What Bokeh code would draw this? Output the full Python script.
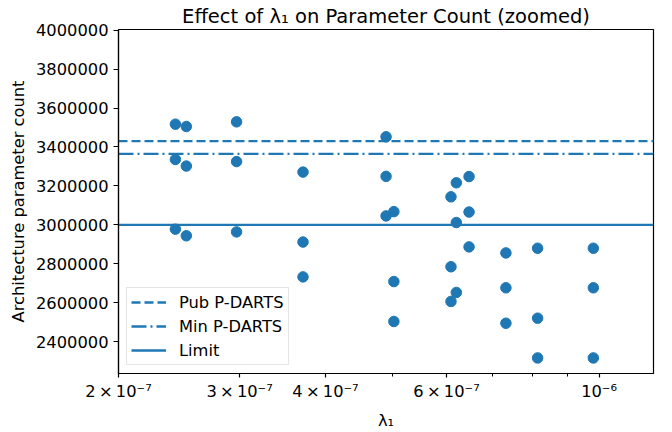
from bokeh.plotting import figure
from bokeh.models import (Range1d, FixedTicker, CustomJSTickFormatter,
                          Legend, LegendItem, BasicTickFormatter)
from bokeh.embed import file_html
from bokeh.resources import INLINE

# ---- data ----
lambda1 = [2.42e-7, 2.42e-7, 2.42e-7,
           2.51e-7, 2.51e-7, 2.51e-7,
           2.97e-7, 2.97e-7, 2.97e-7,
           3.71e-7, 3.71e-7, 3.71e-7,
           4.90e-7, 4.90e-7, 4.90e-7,
           5.03e-7, 5.03e-7, 5.03e-7,
           6.09e-7, 6.09e-7, 6.09e-7,
           6.20e-7, 6.20e-7, 6.20e-7,
           6.47e-7, 6.47e-7, 6.47e-7,
           7.32e-7, 7.32e-7, 7.32e-7,
           8.14e-7, 8.14e-7, 8.14e-7,
           9.81e-7, 9.81e-7, 9.81e-7]
param_count = [3517000, 3336000, 2978000,
               3505000, 3302000, 2944000,
               3529000, 3325000, 2964000,
               3271000, 2912000, 2733000,
               3452000, 3249000, 3046000,
               3068000, 2709000, 2504000,
               3144000, 2785000, 2607000,
               3216000, 3012000, 2653000,
               3248000, 3066000, 2887000,
               2856000, 2677000, 2495000,
               2880000, 2521000, 2317000,
               2880000, 2677000, 2317000]

ref_names = ["Pub P-DARTS", "Min P-DARTS", "Limit"]
ref_values = [3430000, 3365000, 3000000]
ref_dashes = ["9 4", "15 4 2 4", "solid"]

x_tick_values = [2e-7, 3e-7, 4e-7, 6e-7, 1e-6]
x_tick_labels = ["2\u2009×\u200910⁻⁷", "3\u2009×\u200910⁻⁷", "4\u2009×\u200910⁻⁷",
                 "6\u2009×\u200910⁻⁷", "10⁻⁶"]
x_minor_ticks = [5e-7, 7e-7, 8e-7, 9e-7]
y_tick_values = [2400000, 2600000, 2800000, 3000000, 3200000,
                 3400000, 3600000, 3800000, 4000000]

x_limits = [2e-7, 1.2e-6]
y_limits = [2237000, 4003000]

BLUE = "#1f77b4"
FONT = "DejaVu Sans"
FS = "16.3px"

p = figure(width=672, height=432, x_axis_type="log",
           x_range=Range1d(*x_limits), y_range=Range1d(*y_limits),
           output_backend="svg", toolbar_location=None,
           title="Effect of λ₁ on Parameter Count (zoomed)",
           min_border_left=118, min_border_right=19,
           min_border_top=29, min_border_bottom=55)

p.background_fill_color = "white"
p.border_fill_color = "white"
p.outline_line_color = "black"
p.outline_line_width = 1.2
p.grid.visible = False

p.title.text_font = FONT
p.title.text_font_size = "19.5px"
p.title.text_font_style = "normal"
p.title.text_color = "black"
p.title.align = "center"
p.title.standoff = 4
p.title.offset = 0

# x axis
p.xaxis.ticker = FixedTicker(ticks=x_tick_values, minor_ticks=x_minor_ticks)
p.xaxis.formatter = CustomJSTickFormatter(
    args=dict(vals=x_tick_values, labs=x_tick_labels),
    code="""
for (let i = 0; i < vals.length; i++) {
  if (Math.abs(tick - vals[i]) < vals[i] * 1e-6) { return labs[i]; }
}
return "";
""")
p.xaxis.axis_label = "λ₁"

# y axis
p.yaxis.ticker = FixedTicker(ticks=y_tick_values, minor_ticks=[])
p.yaxis.formatter = BasicTickFormatter(use_scientific=False)
p.yaxis.axis_label = "Architecture parameter count"

for ax in (p.xaxis, p.yaxis):
    ax.axis_line_color = "black"
    ax.axis_line_width = 1.2
    ax.major_tick_line_color = "black"
    ax.minor_tick_line_color = "black"
    ax.major_tick_line_width = 1.2
    ax.minor_tick_line_width = 1.0
    ax.major_tick_in = 0
    ax.minor_tick_in = 0
    ax.major_label_text_font = FONT
    ax.major_label_text_font_size = FS
    ax.major_label_text_color = "black"
    ax.axis_label_text_font = FONT
    ax.axis_label_text_font_size = FS
    ax.axis_label_text_font_style = "normal"
    ax.axis_label_text_color = "black"

p.xaxis.major_tick_out = 4
p.xaxis.minor_tick_out = 3
p.xaxis.major_label_standoff = 4
p.xaxis.axis_label_standoff = 7
p.yaxis.major_tick_out = 5
p.yaxis.major_label_standoff = 5
p.yaxis.axis_label_standoff = 5

# reference lines (horizontal, spanning the x range)
items = []
for name, val, dash in zip(ref_names, ref_values, ref_dashes):
    r = p.line(x=x_limits, y=[val, val], line_color=BLUE, line_width=2.3,
               line_dash=dash)
    items.append(LegendItem(label=name, renderers=[r]))

# points
p.scatter(x=lambda1, y=param_count, size=10.5, fill_color=BLUE,
          line_color=BLUE, marker="circle")

legend = Legend(items=items, location="bottom_left")
legend.label_text_font = FONT
legend.label_text_font_size = FS
legend.label_text_color = "black"
legend.glyph_width = 35
legend.glyph_height = 20
legend.label_standoff = 13
legend.label_height = 20
legend.spacing = 4
legend.padding = 4
legend.margin = 8
legend.border_line_color = "#cccccc"
legend.border_line_width = 1
legend.background_fill_color = "white"
legend.background_fill_alpha = 0.8
p.add_layout(legend)

open("out.html", "w").write(file_html(p, INLINE))
